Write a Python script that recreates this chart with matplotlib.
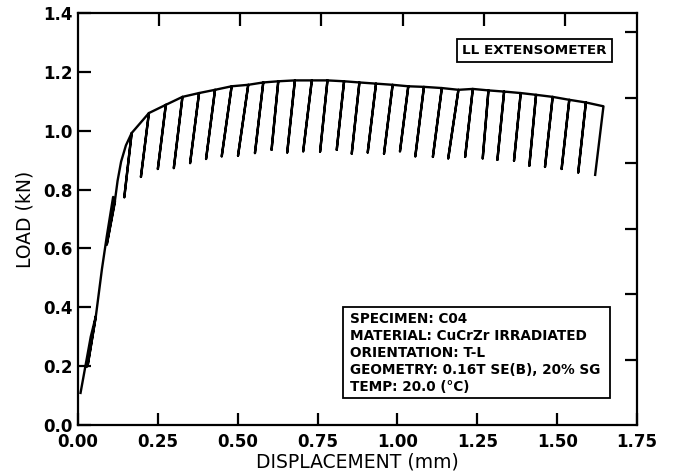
import numpy as np
import matplotlib.pyplot as plt
from matplotlib.patches import Rectangle
from matplotlib.ticker import FixedLocator

# ============================================================================
# data
# initial loading (with two small elastic unload checks)
disp_pre = [0.008, 0.040, 0.056, 0.030, 0.022, 0.030, 0.056, 0.075, 0.090,
            0.110, 0.116, 0.090, 0.116, 0.124, 0.135, 0.150]
load_pre = [0.109, 0.300, 0.370, 0.200, 0.198, 0.200, 0.370, 0.530, 0.640,
            0.775, 0.760, 0.612, 0.765, 0.830, 0.895, 0.950]

# unloading cycles: start of unload (top) and turning point (bottom)
disp_top = [0.168, 0.222, 0.275, 0.327, 0.379, 0.429, 0.481, 0.533, 0.580, 0.627,
            0.679, 0.732, 0.781, 0.833, 0.881, 0.933, 0.985, 1.034, 1.083, 1.139,
            1.191, 1.236, 1.285, 1.334, 1.386, 1.434, 1.486, 1.538, 1.590, 1.645]
load_top = [0.992, 1.060, 1.088, 1.115, 1.128, 1.139, 1.151, 1.156, 1.164, 1.168,
            1.171, 1.171, 1.171, 1.168, 1.164, 1.160, 1.156, 1.151, 1.149, 1.145,
            1.139, 1.142, 1.137, 1.133, 1.128, 1.122, 1.115, 1.105, 1.096, 1.083]
disp_bot = [0.145, 0.197, 0.250, 0.300, 0.351, 0.401, 0.450, 0.501, 0.554, 0.606,
            0.655, 0.705, 0.758, 0.810, 0.857, 0.907, 0.958, 1.008, 1.056, 1.111,
            1.159, 1.212, 1.267, 1.313, 1.365, 1.413, 1.462, 1.514, 1.566, 1.619]
load_bot = [0.774, 0.843, 0.870, 0.873, 0.890, 0.904, 0.913, 0.915, 0.924, 0.935,
            0.926, 0.930, 0.929, 0.935, 0.922, 0.926, 0.922, 0.930, 0.913, 0.911,
            0.906, 0.911, 0.906, 0.901, 0.898, 0.881, 0.877, 0.870, 0.858, 0.850]

xticks = [0.0, 0.25, 0.5, 0.75, 1.0, 1.25, 1.5, 1.75]
yticks = [0.0, 0.2, 0.4, 0.6, 0.8, 1.0, 1.2, 1.4]
inch_ticks = [0.01, 0.02, 0.03, 0.04, 0.05, 0.06]   # top axis, inches
lbf_ticks = [50, 100, 150, 200, 250, 300]           # right axis, lbf
info = ["SPECIMEN: C04",
        "MATERIAL: CuCrZr IRRADIATED",
        "ORIENTATION: T-L",
        "GEOMETRY: 0.16T SE(B), 20% SG",
        "TEMP: 20.0 (\u00b0C)"]

# ============================================================================
# build the record: unload then reload along the same line
xs = list(disp_pre)
ys = list(load_pre)
n = len(disp_top)
for ii in range(n):
    xs += [disp_top[ii], disp_bot[ii]]
    ys += [load_top[ii], load_bot[ii]]
    if ii < n - 1:
        xs.append(disp_top[ii])
        ys.append(load_top[ii])

fig = plt.figure(figsize=(6.74, 4.73), dpi=100)
ax = fig.add_axes([0.1157, 0.1015, 0.8294, 0.871])
ax.plot(xs, ys, color='black', lw=1.7, solid_joinstyle='round')

ax.set_xlim(0, 1.75)
ax.set_ylim(0, 1.4)
ax.set_xticks(xticks)
ax.set_xticklabels(['%.2f' % v for v in xticks])
ax.set_yticks(yticks)
ax.set_yticklabels(['%.1f' % v for v in yticks])
for lab in ax.get_xticklabels() + ax.get_yticklabels():
    lab.set_fontweight('bold')

# inch scale on top and lbf scale on the right, as minor ticks (no labels)
ax.xaxis.set_minor_locator(FixedLocator([v * 25.4 for v in inch_ticks]))
ax.yaxis.set_minor_locator(FixedLocator([v * 0.0044482 for v in lbf_ticks]))

ax.tick_params(which='major', direction='in', length=9, width=1.6, labelsize=12,
               top=False, right=False, bottom=True, left=True)
ax.tick_params(axis='y', which='minor', direction='in', length=9, width=1.6,
               right=True, left=False, labelright=False, labelleft=False)
ax.tick_params(axis='x', which='minor', direction='in', length=9, width=1.6,
               top=True, bottom=False, labeltop=False, labelbottom=False)
ax.tick_params(axis='x', which='major', pad=6)
ax.tick_params(axis='y', which='major', pad=4)
for sp in ax.spines.values():
    sp.set_linewidth(1.6)

ax.set_xlabel('DISPLACEMENT (mm)', fontsize=13.5, labelpad=1)
ax.set_ylabel('LOAD (kN)', fontsize=13.5, labelpad=6)

# boxes
ax.add_patch(Rectangle((0.6785, 0.8803), 0.2763, 0.0559, transform=ax.transAxes,
                       fill=False, lw=1.3, ec='black'))
ax.text(0.8166, 0.9083, 'LL EXTENSOMETER', transform=ax.transAxes,
        ha='center', va='center', fontsize=9.7, fontweight='bold')

ax.add_patch(Rectangle((0.4746, 0.0648), 0.4771, 0.2223, transform=ax.transAxes,
                       fill=False, lw=1.3, ec='black'))
base_y = [0.2468, 0.2063, 0.1643, 0.1231, 0.0825]
for txt, yy in zip(info, base_y):
    ax.text(0.4866, yy, txt, transform=ax.transAxes, ha='left', va='baseline',
            fontsize=9.8, fontweight='bold')

fig.savefig('out.png', dpi=100)
